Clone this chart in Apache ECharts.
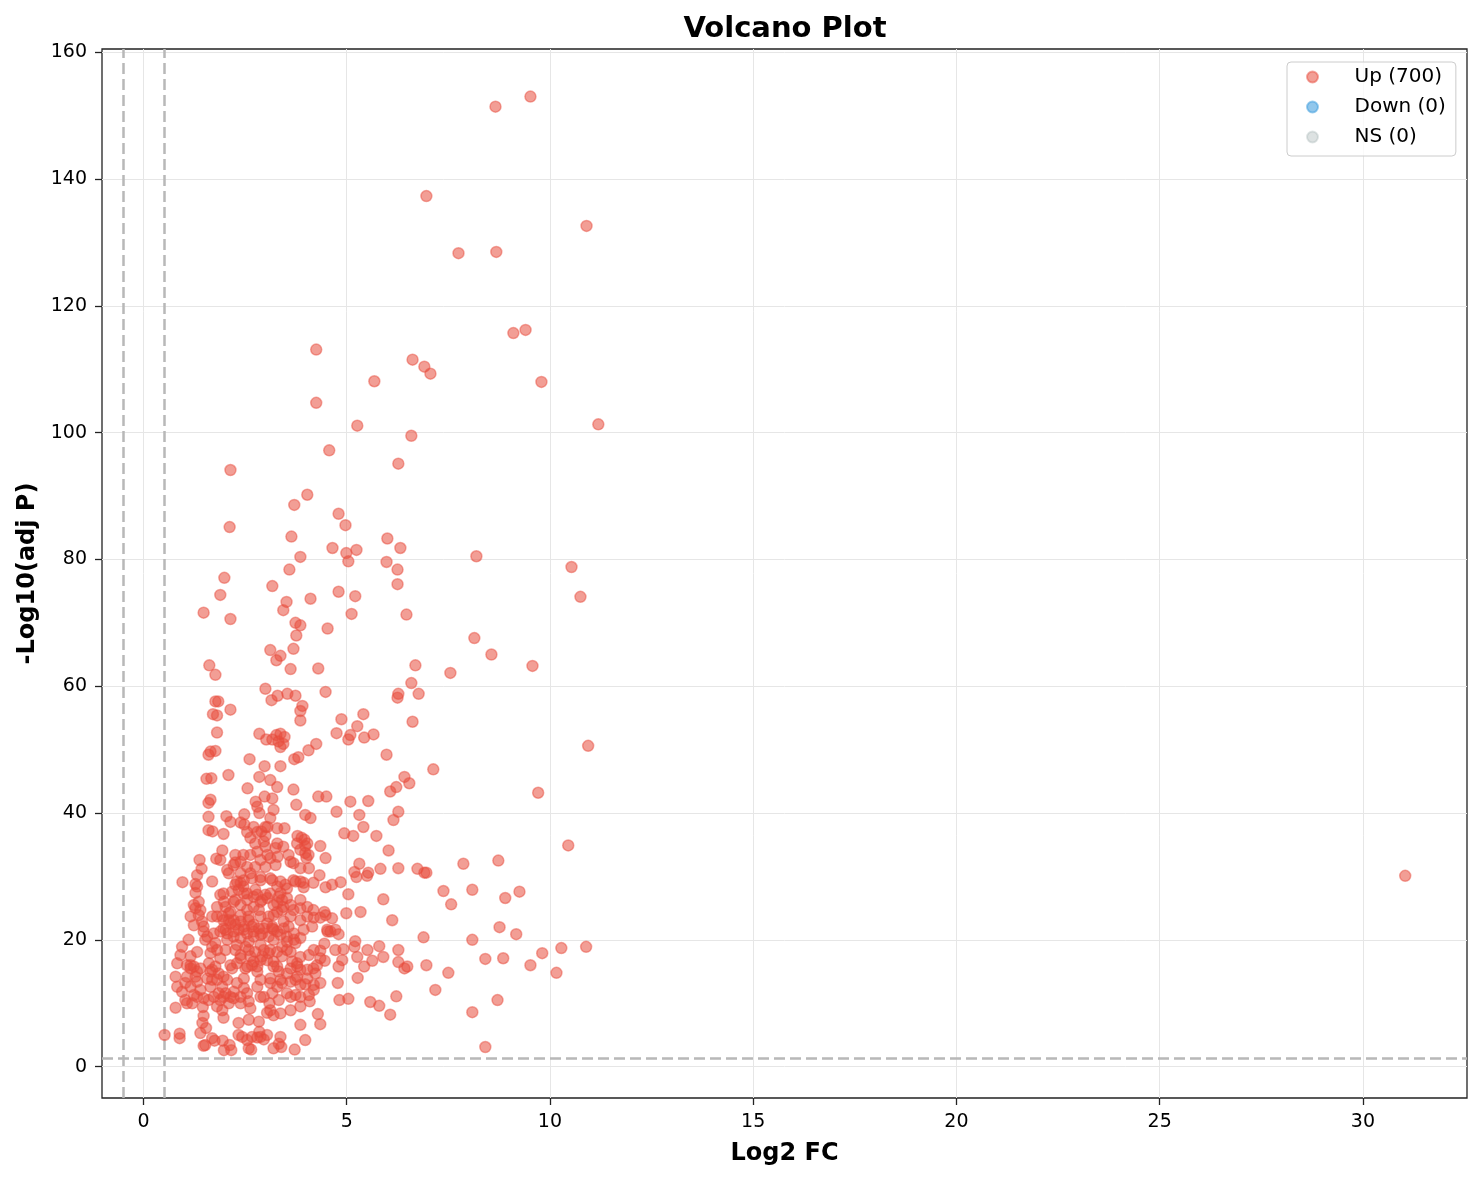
<!DOCTYPE html>
<html>
<head>
<meta charset="utf-8">
<title>Volcano Plot</title>
<script src="https://cdn.jsdelivr.net/npm/echarts@6/dist/echarts.min.js"></script>
<style>
  html, body { margin: 0; padding: 0; background: #fff; }
  #chart { width: 1482px; height: 1180px; }
</style>
</head>
<body>
<div id="chart"></div>
<script>
// points: [log2FC, -log10(adj p)]
var upPoints = [
  [8.66,151.4],[9.52,153.0],[6.96,137.3],[10.9,132.6],[7.75,128.3],[8.68,128.5],[9.1,115.7],[9.4,116.2],
  [4.25,113.1],[6.62,111.5],[6.91,110.4],[7.06,109.3],[5.68,108.1],[9.79,108.0],[4.25,104.7],[11.19,101.3],
  [5.26,101.1],[6.59,99.5],[4.57,97.2],[6.27,95.1],[2.14,94.1],[4.03,90.2],[3.71,88.6],[4.80,87.2],
  [4.97,85.4],[2.12,85.1],[3.64,83.6],[6.0,83.3],[6.32,81.8],[4.65,81.8],[5.24,81.5],[4.99,81.0],
  [5.04,79.7],[3.86,80.4],[8.19,80.5],[5.98,79.6],[10.53,78.8],[3.59,78.4],[6.25,78.4],[10.75,74.1],
  [3.17,75.8],[1.99,77.1],[1.89,74.4],[6.25,76.1],[5.21,74.2],[4.80,74.9],[4.11,73.8],[3.52,73.3],
  [3.44,72.0],[1.48,71.6],[2.14,70.6],[5.12,71.4],[6.47,71.3],[3.74,70.0],[3.86,69.6],[4.53,69.1],
  [8.14,67.6],[3.76,68.0],[3.69,65.9],[3.12,65.7],[3.37,64.8],[8.56,65.0],[3.27,64.1],[1.62,63.3],
  [6.69,63.3],[3.62,62.7],[4.30,62.8],[9.57,63.2],[7.55,62.1],[1.77,61.8],[6.59,60.5],[3.0,59.6],
  [4.48,59.1],[6.77,58.8],[6.25,58.2],[6.27,58.8],[3.54,58.8],[3.30,58.5],[3.15,57.8],[3.74,58.5],
  [1.77,57.6],[1.84,57.6],[3.91,56.9],[3.86,56.1],[2.14,56.3],[1.71,55.6],[1.81,55.4],[5.41,55.6],
  [4.87,54.8],[6.62,54.4],[3.86,54.6],[5.26,53.7],[2.85,52.5],[3.37,52.5],[3.27,52.3],[3.47,52.0],
  [3.17,51.6],[3.32,51.3],[3.44,50.9],[3.37,50.4],[5.66,52.4],[5.09,52.3],[5.04,51.6],[5.43,51.9],
  [3.02,51.6],[4.25,50.9],[4.06,49.9],[1.77,49.8],[3.81,48.8],[3.71,48.5],[5.98,49.2],[1.60,49.2],
  [1.65,49.7],[10.94,50.6],[2.61,48.5],[2.98,47.4],[3.37,47.4],[7.13,46.9],[2.09,46.0],[2.85,45.7],
  [3.12,45.2],[6.42,45.7],[6.54,44.7],[1.55,45.4],[1.67,45.5],[2.56,43.9],[3.69,43.7],[6.07,43.4],
  [6.22,44.1],[9.71,43.2],[4.50,42.6],[4.30,42.6],[2.98,42.6],[3.17,42.3],[2.76,41.8],[5.09,41.8],
  [5.53,41.9],[3.76,41.3],[1.65,42.1],[1.60,41.6],[2.04,39.5],[2.85,40.0],[2.48,39.8],[5.31,39.7],
  [3.98,39.7],[4.11,39.2],[6.27,40.2],[6.15,38.9],[1.60,39.4],[5.41,37.8],[2.14,38.6],[2.39,38.5],
  [2.48,38.2],[3.47,37.6],[2.90,37.1],[4.94,36.8],[5.16,36.4],[5.73,36.4],[1.97,36.7],[3.79,36.4],
  [3.89,36.1],[1.60,37.3],[1.70,37.1],[3.0,36.4],[2.63,36.1],[10.45,34.9],[6.03,34.1],[1.94,34.1],
  [4.35,34.8],[3.98,34.8],[8.73,32.5],[7.87,32.0],[5.31,32.0],[1.79,32.8],[1.38,32.6],[5.83,31.2],
  [6.27,31.3],[6.74,31.2],[6.91,30.6],[6.96,30.6],[5.19,30.7],[5.53,30.6],[31.04,30.1],[1.43,31.2],
  [4.85,29.1],[7.38,27.7],[9.25,27.6],[8.09,27.9],[5.04,27.2],[8.90,26.6],[5.90,26.4],[7.57,25.6],
  [0.96,29.1],[1.28,28.8],[5.34,24.4],[4.99,24.2],[6.12,23.1],[8.76,22.0],[4.72,21.6],[4.53,21.3],
  [9.17,20.9],[6.89,20.4],[5.21,19.8],[8.09,20.0],[5.80,19.0],[5.19,18.9],[10.28,18.7],[10.89,18.9],
  [9.81,17.9],[4.92,18.5],[5.51,18.4],[6.27,18.4],[8.85,17.1],[8.41,17.0],[5.90,17.3],[5.63,16.7],
  [5.26,17.3],[6.27,16.5],[6.49,15.8],[6.42,15.5],[5.43,15.8],[6.96,16.0],[9.52,16.0],[4.89,16.8],
  [7.50,14.8],[10.16,14.8],[7.18,12.1],[4.82,10.5],[5.04,10.7],[6.22,11.1],[5.58,10.2],[5.80,9.6],
  [8.71,10.5],[6.07,8.2],[8.09,8.6],[8.41,3.1],[0.52,5.0],
  [4.75,52.6],[4.75,40.2],[3.96,35.8],[3.98,33.7],[4.01,32.9],
  [5.24,29.9],[5.50,30.1],[4.64,28.7],[4.48,28.3],[4.33,30.2],[4.18,29.0],[3.94,29.0],[3.94,28.3],
  [4.45,24.4],[4.35,23.5],[4.19,23.5],[4.15,22.1],[3.86,23.1],[3.94,21.6],[3.86,20.3],[4.52,21.6],
  [4.60,21.3],[4.80,20.9],[4.45,19.4],[4.35,18.3],[4.07,17.6],[3.86,17.3],[4.46,16.7],[4.27,16.0],
  [4.18,15.5],[4.23,14.7],[4.03,15.3],[3.86,15.3],[5.27,14.0],[4.78,13.2],[4.35,13.2],[4.19,12.9],
  [4.03,13.9],[3.98,13.0],[3.86,12.9],[4.07,11.3],[4.09,10.3],[3.86,11.0],[4.29,8.3],[4.35,6.7],
  [3.86,6.6],[3.98,4.2],
  [0.79,9.3],[0.89,5.2],[0.89,4.5],[1.2,10.0],[1.46,9.4],[1.48,8.0],[1.45,6.9],[1.54,6.1],
  [1.40,5.3],[1.52,3.4],[1.48,3.3],[1.69,4.5],[1.75,4.1],[1.60,10.5],[1.97,7.7],[1.95,4.1],
  [1.98,2.6],[2.12,3.4],[2.16,2.6],[2.34,6.9],[2.59,7.4],[2.84,7.1],[3.04,8.5],[3.12,8.9],
  [3.10,10.0],[2.34,5.0],[2.43,4.7],[2.55,4.2],[2.67,4.7],[2.80,4.6],[2.88,4.7],[2.96,4.3],
  [3.04,5.0],[2.59,2.9],[2.65,2.7],[2.85,5.5],[3.2,2.9],[3.33,3.6],[3.39,3.1],[3.2,8.1],[3.72,2.7],
  [1.32,30.2],[1.69,29.2],[1.28,27.4],[1.36,26.0],[1.24,25.5],[1.28,25.0],[1.40,24.7],[1.36,23.9],
  [1.89,32.6],[2.26,33.4],[2.39,32.3],[2.46,33.4],[2.63,33.4],[2.75,35.2],[2.80,33.9],[3.0,34.7],
  [3.05,33.4],[3.25,34.5],[3.30,33.1],[3.44,34.7],[3.57,33.4],[3.69,32.1],[3.78,35.2],[3.86,34.2],
  [4.03,35.2],[4.06,33.4],[4.48,32.9],[2.96,35.5],[3.29,35.2],
  [2.06,31.0],[2.10,30.5],[2.22,31.8],[2.39,30.5],[2.55,31.5],[2.63,30.5],[2.75,31.5],[2.88,29.9],
  [3.0,31.5],[3.17,29.4],[3.25,31.8],[3.37,29.2],[3.53,28.1],[3.69,29.4],[3.86,29.2],
  [2.39,29.0],[2.46,28.4],[2.34,27.9],[2.55,27.3],[2.71,26.8],[2.80,27.1],
  [1.89,27.1],[1.98,26.0],[1.81,25.2],[1.69,23.7],[1.94,23.7],[2.02,25.2],[2.14,24.4],
  [2.26,26.3],[2.39,25.5],[2.55,24.7],[2.71,25.2],[2.88,26.0],[3.05,26.6],[3.20,25.5],[3.29,24.4],
  [3.44,25.2],[3.53,26.6],[3.69,24.7],[3.86,26.3],[3.37,27.4],[3.41,26.3],[3.33,26.8],
  [4.03,25.2],[4.18,24.7],[4.48,23.9],[4.64,23.4],
  [1.81,23.7],[1.97,23.1],[2.14,22.6],[2.26,22.4],[2.39,22.9],[2.47,22.1],[2.59,23.1],[2.71,22.4],
  [2.84,21.8],[3.04,22.6],[3.17,21.8],[3.29,21.3],[3.45,22.9],[3.57,22.1],[3.70,21.0],[1.48,21.3],
  [1.57,20.5],[1.73,21.0],[1.89,21.3],[2.06,21.0],[2.22,20.5],[2.39,20.3],[2.55,21.0],[2.71,20.5],
  [2.88,20.8],[3.08,20.5],[3.20,20.0],[3.37,20.8],[3.53,20.5],[3.70,20.0],
  [0.95,18.9],[0.91,17.6],[0.83,16.3],[0.79,14.2],[0.83,12.6],[0.95,11.8],
  [1.11,20.0],[1.16,17.4],[1.07,16.0],[1.16,15.5],[1.24,15.8],[1.32,15.0],[1.28,14.2],[1.07,14.2],
  [1.03,13.2],[1.16,12.6],[1.32,13.4],[1.40,12.1],[1.32,11.0],[1.03,10.5],[1.07,10.0],
  [1.77,19.5],[1.81,18.4],[1.65,17.9],[1.61,16.3],[1.69,15.3],[1.85,14.7],[1.97,14.2],[1.81,13.7],
  [1.65,12.6],[1.94,12.6],[2.02,11.6],[2.14,11.0],[1.89,10.5],[1.73,11.0],[1.81,9.5],[1.94,8.9],
  [2.10,10.0],[2.22,11.8],[2.39,11.0],[2.30,13.2],[2.47,12.4],[2.55,11.6],[2.59,10.3],[2.39,10.0],
  [2.63,9.2],
  [2.26,18.4],[2.39,17.6],[2.51,18.9],[2.63,17.4],[2.75,18.1],[2.88,16.8],[2.80,15.8],[2.55,15.8],
  [2.30,16.3],[2.96,18.4],[3.08,17.9],[3.20,16.6],[3.29,15.8],[3.41,17.4],[3.53,18.4],[3.66,16.6],
  [3.78,15.8],[4.19,18.4],[4.35,17.1],[4.72,18.4],[3.78,14.2],[3.53,14.7],[3.37,13.7],[3.29,12.6],
  [3.17,11.6],[2.96,11.0],[3.53,11.6],[3.74,11.3],[4.19,12.1],[4.80,15.8],[3.86,9.5],[3.62,8.9],
  [3.37,8.4],[3.37,4.7],
  [1.81,52.7],[3.29,44.1],[2.80,41.0],[3.20,40.5],[3.12,39.2],[3.05,37.8],[3.29,37.6],
  [2.55,37.0],[2.71,37.8],[2.80,37.0],[3.0,37.8],
  // dense core
  [2.26,32.2],[2.88,32.6],[3.12,32.9],[3.62,32.3],[3.86,31.3],[4.07,31.3],[1.32,28.4],
  [2.30,29.2],[2.47,29.4],[2.67,29.7],[2.88,29.4],[3.12,29.7],[3.49,28.7],[3.74,29.2],
  [1.97,27.3],[2.18,27.6],[2.22,26.0],[2.47,27.3],[2.55,26.3],[2.92,26.3],[3.12,27.3],
  [3.29,25.8],[3.62,25.5],[3.86,25.0],
  [1.16,23.7],[1.44,22.9],[2.10,24.2],[2.22,23.1],[2.39,23.9],[2.59,23.7],[2.88,23.7],
  [3.20,23.9],[3.41,24.7],[3.62,23.7],[4.03,23.7],
  [1.24,22.3],[1.48,22.1],[1.97,21.8],[2.22,21.3],[2.47,21.6],[2.71,21.3],[2.96,21.8],
  [3.20,21.6],[3.45,21.8],
  [1.32,18.1],[1.52,20.0],[2.06,20.0],[2.30,19.2],[2.59,19.7],[2.88,19.2],[3.29,18.1],
  [3.53,19.7],[3.62,18.1],
  [1.16,16.0],[1.40,15.5],[1.65,15.0],[1.89,17.1],[2.14,16.0],[2.39,17.1],[2.51,15.5],
  [2.71,16.6],[2.80,15.0],[3.04,16.8],[3.20,15.8],[3.33,15.0],[3.62,15.5],[3.78,16.3],
  [1.57,13.9],[2.06,13.7],[2.47,13.9],[2.80,12.6],[2.88,13.7],[3.12,13.2],[3.62,13.4],
  [1.24,11.3],[1.48,10.8],[1.97,11.0],[2.22,10.8],[2.88,11.0],[3.33,10.5],[3.62,11.0],
  [2.26,28.7],[2.75,27.9],[3.0,27.1],[3.29,28.4],[2.10,23.1],[2.84,24.7],[3.08,23.7],
  [3.17,22.1],[2.02,21.6],[2.34,21.6],[2.67,22.1],[2.92,21.0],
  [1.69,18.9],[2.02,18.4],[2.59,18.4],[2.92,17.4],[3.12,18.4],[3.41,18.9],[3.74,19.5],
  [2.67,16.0],[2.18,15.5],[1.77,15.8],[1.69,13.7],[3.12,13.9],[3.41,13.2],[3.74,13.7],
  [1.85,11.6]
];
var downPoints = [];
var nsPoints = [];

var groupNames = ['Up', 'Down', 'NS'];
var groupCounts = [700, 0, 0];
var groupColors = ['rgba(231,76,60,0.68)', 'rgba(52,152,219,0.68)', 'rgba(149,165,166,0.4)'];
var groupEdges = ['rgba(231,76,60,0.6)', 'rgba(52,152,219,0.6)', 'rgba(149,165,166,0.35)'];

var xTicks = [0, 5, 10, 15, 20, 25, 30];
var yTicks = [0, 20, 40, 60, 80, 100, 120, 140, 160];

var fcCutoff = 0.5;
var pCutoff = 1.301; // -log10(0.05)

var font = 'DejaVu Sans, sans-serif';
var chart = echarts.init(document.getElementById('chart'));

function legendName(i) {
  return groupNames[i] + ' (' + groupCounts[i] + ')';
}

function scatter(i, data) {
  return {
    name: legendName(i),
    type: 'scatter',
    data: data,
    symbolSize: 11,
    z: 3,
    itemStyle: {
      color: groupColors[i],
      borderColor: groupEdges[i],
      borderWidth: 1.5
    }
  };
}

var series = [scatter(0, upPoints), scatter(1, downPoints), scatter(2, nsPoints)];

// dashed cut-off lines
series[0].markLine = {
  silent: true,
  z: 1,
  symbol: ['none', 'none'],
  label: { show: false },
  lineStyle: { color: '#b8b8b8', type: [11, 5], width: 2.5 },
  emphasis: { disabled: true },
  data: [
    { xAxis: -fcCutoff },
    { xAxis: fcCutoff },
    { yAxis: pCutoff }
  ]
};

var axisCommon = {
  type: 'value',
  axisLine: { show: false, onZero: false },
  axisTick: { show: true, inside: false, length: 7, lineStyle: { color: '#222', width: 1.3 } },
  axisLabel: { color: '#000', fontSize: 19, fontFamily: font },
  splitLine: { show: true, lineStyle: { color: '#e6e6e6', width: 1 } },
  nameLocation: 'middle',
  nameTextStyle: { color: '#000', fontSize: 24, fontWeight: 'bold', fontFamily: font }
};

var option = {
  animation: false,
  backgroundColor: '#fff',
  title: {
    text: 'Volcano Plot',
    left: 780,
    top: 10,
    textAlign: 'center',
    textStyle: { fontSize: 29, fontWeight: 'bold', color: '#000', fontFamily: font }
  },
  grid: {
    left: 102, right: 15, top: 49, bottom: 82,
    show: true, borderColor: '#222', borderWidth: 1.3,
    containLabel: false, outerBoundsMode: 'none'
  },
  legend: {
    data: [legendName(0), legendName(1), legendName(2)],
    orient: 'vertical',
    left: 1287,
    top: 62,
    icon: 'circle',
    itemWidth: 20,
    itemHeight: 11,
    itemGap: 10,
    padding: [5, 10, 9, 19],
    backgroundColor: 'rgba(255,255,255,0.8)',
    borderColor: '#cccccc',
    borderWidth: 1,
    borderRadius: 4,
    textStyle: { color: '#000', fontSize: 20, fontFamily: font, lineHeight: 20, padding: [0, 0, 0, 27] }
  },
  xAxis: Object.assign({}, axisCommon, {
    min: -1.02,
    max: 32.56,
    name: 'Log2 FC',
    nameGap: 44,
    axisTick: Object.assign({}, axisCommon.axisTick, { customValues: xTicks }),
    axisLabel: Object.assign({}, axisCommon.axisLabel, { customValues: xTicks, margin: 15 })
  }),
  yAxis: Object.assign({}, axisCommon, {
    min: -4.94,
    max: 160.5,
    name: '-Log10(adj P)',
    nameGap: 60,
    axisTick: Object.assign({}, axisCommon.axisTick, { customValues: yTicks }),
    axisLabel: Object.assign({}, axisCommon.axisLabel, { customValues: yTicks, margin: 15 })
  }),
  series: series
};

chart.setOption(option);
</script>
</body>
</html>
